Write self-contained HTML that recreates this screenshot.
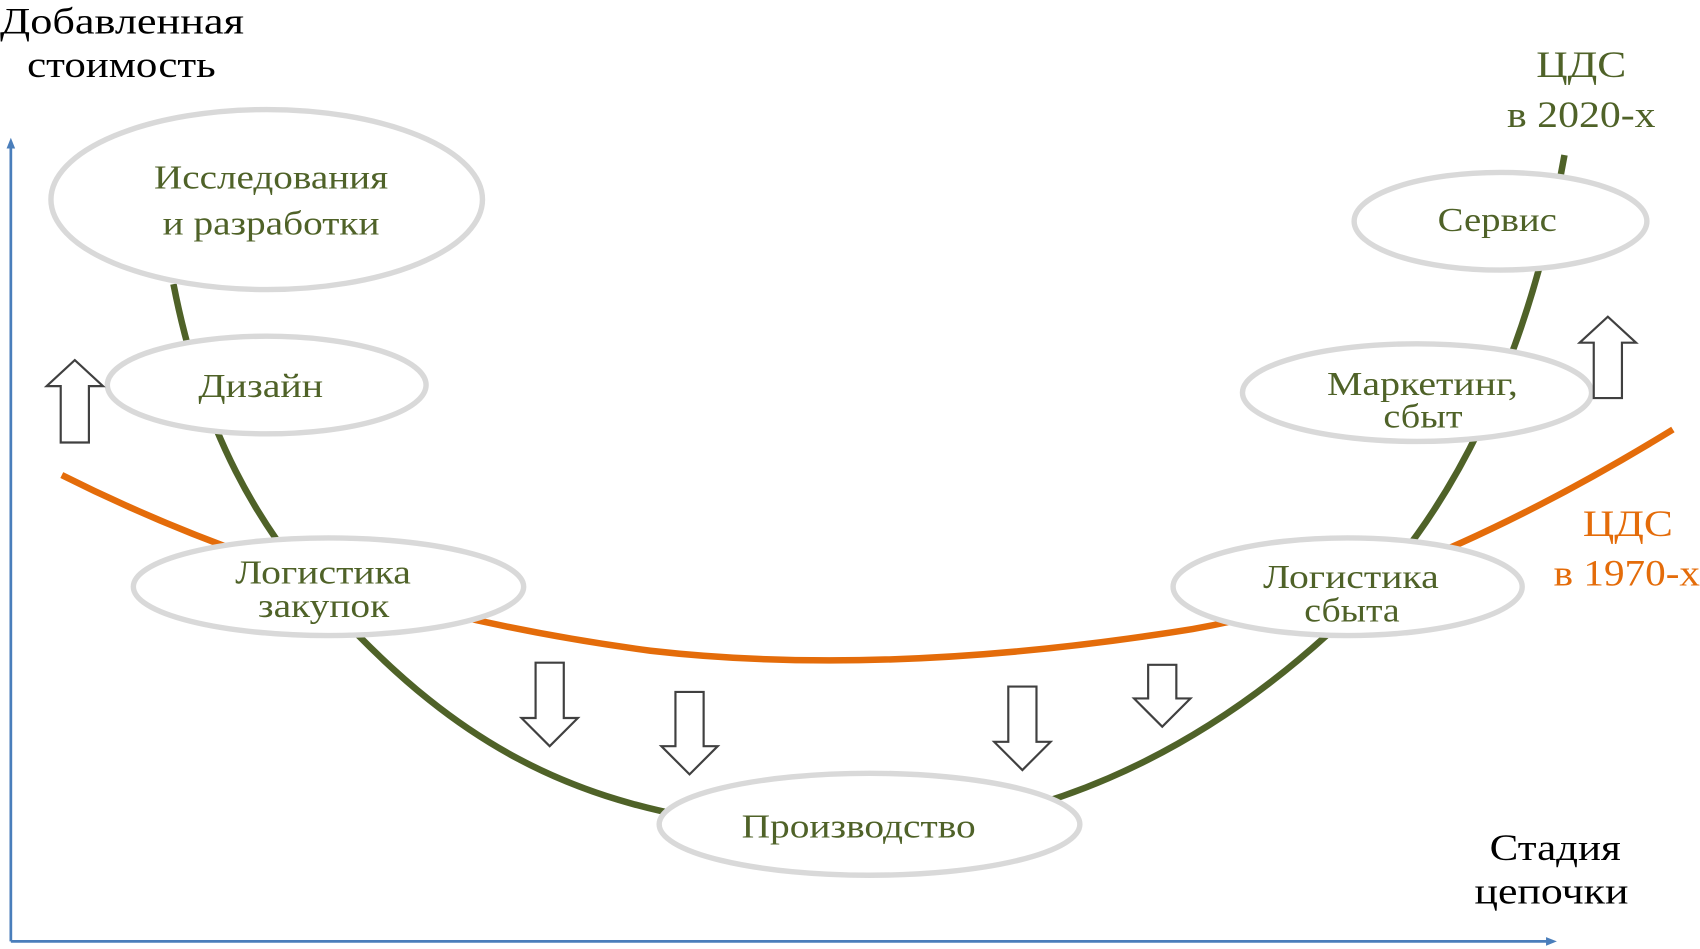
<!DOCTYPE html>
<html><head><meta charset="utf-8"><style>
html,body{margin:0;padding:0;background:#fff;}
svg{display:block;}
text{font-family:"Liberation Serif","DejaVu Serif",serif;}
</style></head><body>
<svg width="1700" height="949" viewBox="0 0 1568 875" preserveAspectRatio="none" xmlns="http://www.w3.org/2000/svg">
<defs>
<marker id="ah" markerWidth="10" markerHeight="10" refX="5" refY="5" orient="auto" markerUnits="userSpaceOnUse"><path d="M0,1 L10,5 L0,9 z" fill="#4a7ebb"/></marker>
</defs>
<line x1="10" y1="868" x2="10" y2="132" stroke="#4a7ebb" stroke-width="2.5" marker-end="url(#ah)"/>
<line x1="10" y1="868" x2="1431" y2="868" stroke="#4a7ebb" stroke-width="2.5" marker-end="url(#ah)"/>
<path d="M57,438 Q 300,560 600,600 Q 820,625 1100,580 Q 1300,545 1543,396" fill="none" stroke="#e46c0a" stroke-width="6"/>
<path d="M160,262 C 185,390 235,490 320,575 C 420,680 520,740 680,760 L800,765 C 950,765 1100,700 1230,580 C 1340,480 1410,330 1443,143" fill="none" stroke="#4f6228" stroke-width="6"/>
<g fill="#fff" stroke="#d9d9d9" stroke-width="5">
<ellipse cx="246" cy="184" rx="199" ry="83"/>
<ellipse cx="246" cy="355" rx="147" ry="45"/>
<ellipse cx="303" cy="541" rx="180" ry="45"/>
<ellipse cx="802" cy="760" rx="194" ry="47"/>
<ellipse cx="1243" cy="541" rx="161" ry="45"/>
<ellipse cx="1307" cy="362" rx="161" ry="45"/>
<ellipse cx="1384" cy="204" rx="135" ry="45"/>
</g>
<g fill="#fff" stroke="#404040" stroke-width="2">
<path d="M56,408 L82,408 L82,356 L95,356 L69,332 L43,356 L56,356 Z"/>
<path d="M1470,367 L1496,367 L1496,316 L1509,316 L1483,292 L1457,316 L1470,316 Z"/>
<path d="M494,611 L520,611 L520,662 L533,662 L507,688 L481,662 L494,662 Z"/>
<path d="M623,638 L649,638 L649,688 L662,688 L636,714 L610,688 L623,688 Z"/>
<path d="M930,633 L956,633 L956,684 L969,684 L943,710 L917,684 L930,684 Z"/>
<path d="M1059,613 L1085,613 L1085,644 L1098,644 L1072,670 L1046,644 L1059,644 Z"/>
</g>
<g fill="#4f6228" font-size="31" lengthAdjust="spacingAndGlyphs">
<text x="142" y="174" textLength="216" lengthAdjust="spacingAndGlyphs">Исследования</text>
<text x="150" y="216" textLength="200" lengthAdjust="spacingAndGlyphs">и разработки</text>
<text x="183" y="366" textLength="115" lengthAdjust="spacingAndGlyphs">Дизайн</text>
<text x="217" y="538" textLength="162" lengthAdjust="spacingAndGlyphs">Логистика</text>
<text x="238" y="569" textLength="121" lengthAdjust="spacingAndGlyphs">закупок</text>
<text x="684" y="772" textLength="216" lengthAdjust="spacingAndGlyphs">Производство</text>
<text x="1165" y="542" textLength="162" lengthAdjust="spacingAndGlyphs">Логистика</text>
<text x="1203" y="573" textLength="88" lengthAdjust="spacingAndGlyphs">сбыта</text>
<text x="1224" y="364" textLength="176" lengthAdjust="spacingAndGlyphs">Маркетинг,</text>
<text x="1276" y="394" textLength="73" lengthAdjust="spacingAndGlyphs">сбыт</text>
<text x="1326" y="213" textLength="110" lengthAdjust="spacingAndGlyphs">Сервис</text>
<text x="1417" y="71" font-size="34" textLength="83" lengthAdjust="spacingAndGlyphs">ЦДС</text>
<text x="1390" y="117" font-size="34" textLength="137" lengthAdjust="spacingAndGlyphs">в 2020-х</text>
</g>
<g fill="#e46c0a" font-size="34">
<text x="1460" y="494" textLength="83" lengthAdjust="spacingAndGlyphs">ЦДС</text>
<text x="1433" y="540" textLength="135" lengthAdjust="spacingAndGlyphs">в 1970-х</text>
</g>
<g fill="#000" font-size="34">
<text x="0" y="31" textLength="225" lengthAdjust="spacingAndGlyphs">Добавленная</text>
<text x="25" y="71" textLength="174" lengthAdjust="spacingAndGlyphs">стоимость</text>
<text x="1374" y="793" textLength="121" lengthAdjust="spacingAndGlyphs">Стадия</text>
<text x="1360" y="833" textLength="142" lengthAdjust="spacingAndGlyphs">цепочки</text>
</g>
</svg>
</body></html>
